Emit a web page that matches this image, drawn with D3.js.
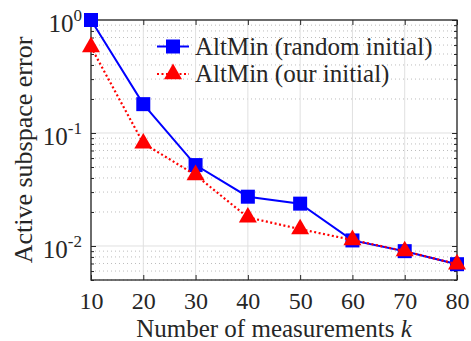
<!DOCTYPE html>
<html lang="en">
<head>
<meta charset="UTF-8">
<title>Active subspace error</title>
<style>
  body { margin: 0; background: #fff; }
</style>
</head>
<body>
<svg></svg>
<script src="https://d3js.org/d3.v7.min.js"></script>
<script>
// data
var kValues = [10, 20, 30, 40, 50, 60, 70, 80];
var randomInit = [1.0, 0.18, 0.052, 0.0273, 0.0237, 0.0112, 0.0090, 0.0069];
var ourInit = [0.577, 0.081, 0.0425, 0.0179, 0.0141, 0.0113, 0.0090, 0.0069];
var xTicks = [10, 20, 30, 40, 50, 60, 70, 80];
var yDecades = [0, -1, -2];
var seriesNames = ["AltMin (random initial)", "AltMin (our initial)"];

var width = 471, height = 341;
var margin = {top: 20, right: 14, bottom: 61, left: 91};
var w = width - margin.left - margin.right;
var h = height - margin.top - margin.bottom;
var font = "Liberation Serif";
var axColor = "#262626";

var svg = d3.select("svg").attr("width", width).attr("height", height);
var g = svg.append("g").attr("transform", "translate(" + margin.left + "," + margin.top + ")");

var x = d3.scaleLinear().domain([10, 80]).range([0, w]);
var y = d3.scaleLog().domain([0.005, 1]).range([h, 0]);

// minor ticks 2..9 in each decade
var minor = [];
[-3, -2, -1].forEach(function (e) {
    for (var m = 2; m <= 9; m++) {
        var v = m * Math.pow(10, e);
        if (v >= 0.005 && v < 1) minor.push(v);
    }
});
var yMaj = yDecades.map(function (d) { return Math.pow(10, d); });

// grid
g.selectAll(".minorgrid").data(minor).enter().append("line")
    .attr("x1", 0).attr("x2", w)
    .attr("y1", function (d) { return y(d); }).attr("y2", function (d) { return y(d); })
    .attr("stroke", "#bdbdbd").attr("stroke-width", 1).attr("stroke-dasharray", "1,3");
g.selectAll(".vgrid").data(xTicks).enter().append("line")
    .attr("x1", function (d) { return x(d); }).attr("x2", function (d) { return x(d); })
    .attr("y1", 0).attr("y2", h)
    .attr("stroke", "#e0e0e0").attr("stroke-width", 1);
g.selectAll(".hgrid").data(yMaj).enter().append("line")
    .attr("x1", 0).attr("x2", w)
    .attr("y1", function (d) { return y(d); }).attr("y2", function (d) { return y(d); })
    .attr("stroke", "#e0e0e0").attr("stroke-width", 1);

// axes, ticks inside, box on
var xAxis = g.append("g").attr("transform", "translate(0," + h + ")")
    .call(d3.axisBottom(x).tickValues(xTicks).tickSizeInner(-5).tickSizeOuter(0).tickPadding(12));
g.append("g")
    .call(d3.axisTop(x).tickValues(xTicks).tickSizeInner(-5).tickSizeOuter(0).tickFormat(""));
g.append("g")
    .call(d3.axisLeft(y).tickValues(yMaj).tickSizeInner(-5).tickSizeOuter(0).tickFormat(""));
g.append("g").call(d3.axisLeft(y).tickValues(minor).tickSizeInner(-3).tickSizeOuter(0).tickFormat(""));
g.append("g").attr("transform", "translate(" + w + ",0)")
    .call(d3.axisRight(y).tickValues(yMaj).tickSizeInner(-5).tickSizeOuter(0).tickFormat(""));
g.append("g").attr("transform", "translate(" + w + ",0)")
    .call(d3.axisRight(y).tickValues(minor).tickSizeInner(-3).tickSizeOuter(0).tickFormat(""));

g.selectAll(".domain").remove();
g.selectAll(".tick line").attr("stroke", axColor);
xAxis.selectAll("text")
    .attr("font-size", 24).attr("font-family", font).attr("fill", axColor);

g.append("rect").attr("width", w).attr("height", h)
    .attr("fill", "none").attr("stroke", axColor).attr("stroke-width", 1.3);

// y tick labels 10^e
yDecades.forEach(function (e) {
    var t = g.append("text")
        .attr("x", -9).attr("y", y(Math.pow(10, e)) + 12)
        .attr("text-anchor", "end").attr("font-size", 25)
        .attr("font-family", font).attr("fill", axColor);
    t.append("tspan").text("10");
    t.append("tspan").attr("dy", -11).attr("font-size", 17).text(String(e));
});

// lines and markers
var line = d3.line()
    .x(function (d, i) { return x(kValues[i]); })
    .y(function (d) { return y(d); });

g.append("path").datum(randomInit).attr("d", line)
    .attr("fill", "none").attr("stroke", "#0000ff").attr("stroke-width", 2);
g.selectAll(".sq").data(randomInit).enter().append("rect")
    .attr("x", function (d, i) { return x(kValues[i]) - 7; })
    .attr("y", function (d) { return y(d) - 7; })
    .attr("width", 14).attr("height", 14).attr("fill", "#0000ff");

g.append("path").datum(ourInit).attr("d", line)
    .attr("fill", "none").attr("stroke", "#ff0000").attr("stroke-width", 2.2)
    .attr("stroke-dasharray", "2,2.5");
var tri = d3.symbol().type(d3.symbolTriangle).size(140);
g.selectAll(".tri").data(ourInit).enter().append("path")
    .attr("d", tri)
    .attr("transform", function (d, i) { return "translate(" + x(kValues[i]) + "," + y(d) + ")"; })
    .attr("fill", "#ff0000");

// legend
var legend = svg.append("g");
var ly = [46.5, 74];
legend.append("line").attr("x1", 157).attr("x2", 189).attr("y1", ly[0]).attr("y2", ly[0])
    .attr("stroke", "#0000ff").attr("stroke-width", 2);
legend.append("rect").attr("x", 166).attr("y", ly[0] - 7).attr("width", 14).attr("height", 14).attr("fill", "#0000ff");
legend.append("line").attr("x1", 157).attr("x2", 189).attr("y1", ly[1]).attr("y2", ly[1])
    .attr("stroke", "#ff0000").attr("stroke-width", 2.2).attr("stroke-dasharray", "2,2.5");
legend.append("path").attr("d", tri).attr("transform", "translate(173," + ly[1] + ")").attr("fill", "#ff0000");
seriesNames.forEach(function (s, i) {
    legend.append("text").attr("x", 195).attr("y", ly[i] + 8)
        .attr("font-size", 25).attr("font-family", font).attr("fill", axColor)
        .text(s);
});

// axis titles
var xt = svg.append("text")
    .attr("x", margin.left + w / 2).attr("y", 337)
    .attr("text-anchor", "middle").attr("font-size", 25)
    .attr("font-family", font).attr("fill", axColor);
xt.append("tspan").text("Number of measurements ");
xt.append("tspan").attr("font-style", "italic").text("k");

svg.append("text")
    .attr("transform", "rotate(-90)")
    .attr("x", -(margin.top + h / 2)).attr("y", 32)
    .attr("text-anchor", "middle").attr("font-size", 26)
    .attr("font-family", font).attr("fill", axColor)
    .text("Active subspace error");
</script>
</body>
</html>
